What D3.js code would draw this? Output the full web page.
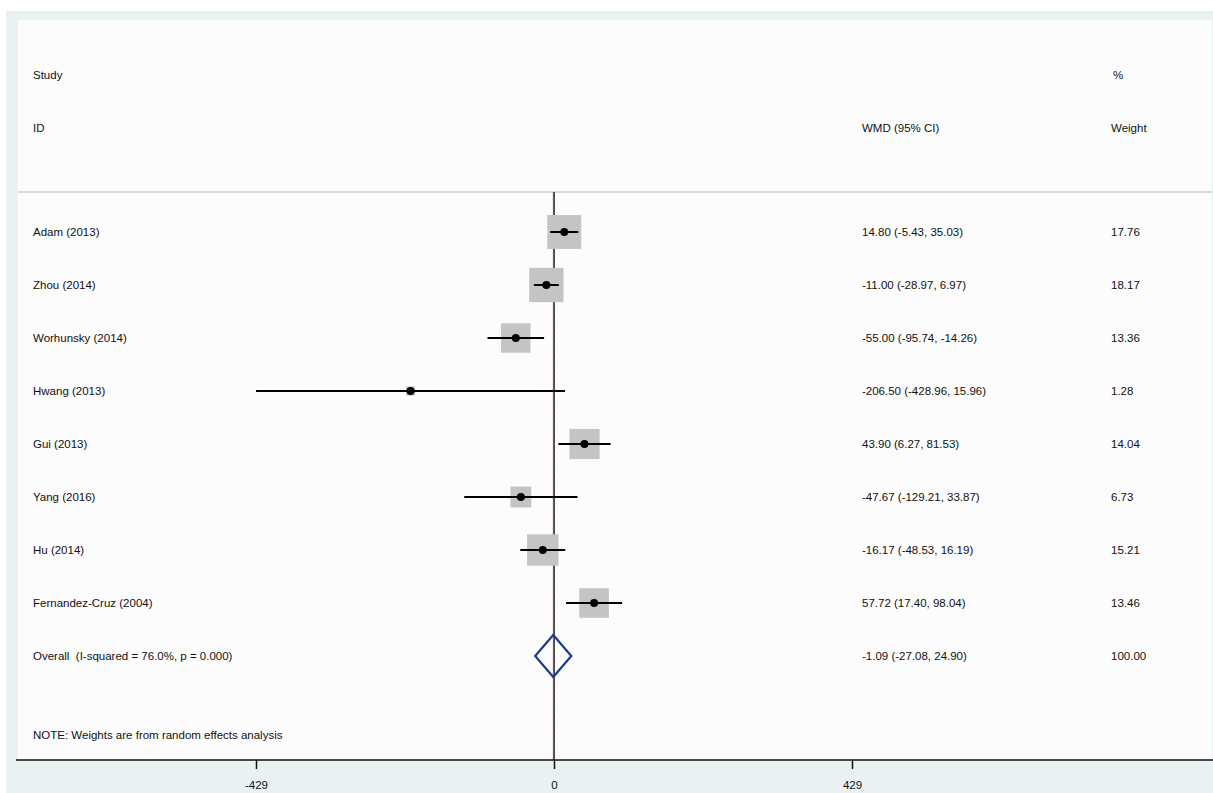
<!DOCTYPE html>
<html>
<head>
<meta charset="utf-8">
<script src="https://cdn.jsdelivr.net/npm/d3@7"></script>
<style>
  body { margin: 0; background: #ffffff; }
  text { font-family: "Liberation Sans", Arial, sans-serif; fill: #111; white-space: pre; }
</style>
</head>
<body>
<svg width="1213" height="793"></svg>
<script>
var studies = ["Adam (2013)", "Zhou (2014)", "Worhunsky (2014)", "Hwang (2013)", "Gui (2013)",
               "Yang (2016)", "Hu (2014)", "Fernandez-Cruz (2004)"]
var wmd = [14.80, -11.00, -55.00, -206.50, 43.90, -47.67, -16.17, 57.72]
var lower = [-5.43, -28.97, -95.74, -428.96, 6.27, -129.21, -48.53, 17.40]
var upper = [35.03, 6.97, -14.26, 15.96, 81.53, 33.87, 16.19, 98.04]
var weights = [17.76, 18.17, 13.36, 1.28, 14.04, 6.73, 15.21, 13.46]
var overall = { label: "Overall  (I-squared = 76.0%, p = 0.000)", est: -1.09, lo: -27.08, hi: 24.90, w: 100.00 }
var xTicks = [-429, 0, 429]

main()

function main() {
  var FS = 11.5
  var svg = d3.select("svg")
  var loc = d3.formatLocale({ decimal: ".", thousands: ",", grouping: [3], currency: ["", ""], minus: "-" })
  var fmt = loc.format(".2f")

  // background panels
  svg.append("rect").attr("x", 6).attr("y", 11).attr("width", 1207).attr("height", 782).attr("fill", "#e9f1f2")
  svg.append("rect").attr("x", 18).attr("y", 20).attr("width", 1194).attr("height", 740).attr("fill", "#fcfcfd")

  var x = d3.scaleLinear().domain([-429, 429]).range([256, 852])
  var rows = d3.range(studies.length + 1)
  var y = d3.scalePoint().domain(rows).range([232, 656])
  var side = d3.scaleSqrt().domain([0, 20]).range([0, 36])

  // header
  var hdr = [["Study", 33, 75], ["ID", 33, 128], ["WMD (95% CI)", 862, 128],
             ["%", 1113, 75], ["Weight", 1111, 128]]
  svg.selectAll(".hdr").data(hdr).enter().append("text")
      .attr("x", function(d) { return d[1] })
      .attr("y", function(d) { return d[2] })
      .attr("dy", "0.35em")
      .attr("font-size", FS)
      .text(function(d) { return d[0] })

  svg.append("line").attr("x1", 18).attr("x2", 1212).attr("y1", 192).attr("y2", 192)
      .attr("stroke", "#c9cfd2").attr("stroke-width", 1.5)

  // null line and overall line
  svg.append("line").attr("x1", x(0)).attr("x2", x(0)).attr("y1", 192).attr("y2", 760)
      .attr("stroke", "#111").attr("stroke-width", 1.5)
  svg.append("line").attr("x1", x(overall.est)).attr("x2", x(overall.est)).attr("y1", 192).attr("y2", 760)
      .attr("stroke", "#d05a4a").attr("stroke-width", 0.8).attr("stroke-dasharray", "3,2")

  // study rows
  var g = svg.selectAll(".study").data(studies).enter().append("g")
      .attr("transform", function(d, i) { return "translate(0," + y(i) + ")" })

  g.append("rect")
      .attr("x", function(d, i) { return x(wmd[i]) - side(weights[i]) / 2 })
      .attr("y", function(d, i) { return -side(weights[i]) / 2 })
      .attr("width", function(d, i) { return side(weights[i]) })
      .attr("height", function(d, i) { return side(weights[i]) })
      .attr("fill", "#c4c4c4")

  g.append("line")
      .attr("x1", function(d, i) { return x(lower[i]) })
      .attr("x2", function(d, i) { return x(upper[i]) })
      .attr("stroke", "#000").attr("stroke-width", 2)

  g.append("circle")
      .attr("cx", function(d, i) { return x(wmd[i]) })
      .attr("r", 4).attr("fill", "#000")

  g.append("text").attr("x", 33).attr("dy", "0.35em").attr("font-size", FS)
      .text(function(d) { return d })
  g.append("text").attr("x", 862).attr("dy", "0.35em").attr("font-size", FS)
      .text(function(d, i) { return fmt(wmd[i]) + " (" + fmt(lower[i]) + ", " + fmt(upper[i]) + ")" })
  g.append("text").attr("x", 1111).attr("dy", "0.35em").attr("font-size", FS)
      .text(function(d, i) { return fmt(weights[i]) })

  // overall row
  var oy = y(studies.length)
  var dh = 21
  svg.append("polygon")
      .attr("points", [[x(overall.lo), oy], [x(overall.est), oy - dh], [x(overall.hi), oy], [x(overall.est), oy + dh]].join(" "))
      .attr("fill", "none").attr("stroke", "#1f3a8a").attr("stroke-width", 2.2)
  svg.append("text").attr("x", 33).attr("y", oy).attr("dy", "0.35em").attr("font-size", FS).text(overall.label)
  svg.append("text").attr("x", 862).attr("y", oy).attr("dy", "0.35em").attr("font-size", FS)
      .text(fmt(overall.est) + " (" + fmt(overall.lo) + ", " + fmt(overall.hi) + ")")
  svg.append("text").attr("x", 1111).attr("y", oy).attr("dy", "0.35em").attr("font-size", FS).text(fmt(overall.w))

  svg.append("text").attr("x", 33).attr("y", 735).attr("dy", "0.35em").attr("font-size", FS)
      .text("NOTE: Weights are from random effects analysis")

  // x axis
  svg.append("line").attr("x1", 16).attr("x2", 1213).attr("y1", 760).attr("y2", 760)
      .attr("stroke", "#111").attr("stroke-width", 1.5)
  var axis = d3.axisBottom(x).tickValues(xTicks).tickSize(9).tickPadding(12).tickFormat(loc.format("d"))
  var ax = svg.append("g").attr("transform", "translate(0,760)").call(axis)
  ax.select(".domain").remove()
  ax.selectAll(".tick line").attr("stroke", "#111").attr("stroke-width", 1.5)
  ax.selectAll(".tick text").attr("font-size", FS).attr("font-family", "Liberation Sans, Arial, sans-serif").attr("fill", "#111")
}
</script>
</body>
</html>
